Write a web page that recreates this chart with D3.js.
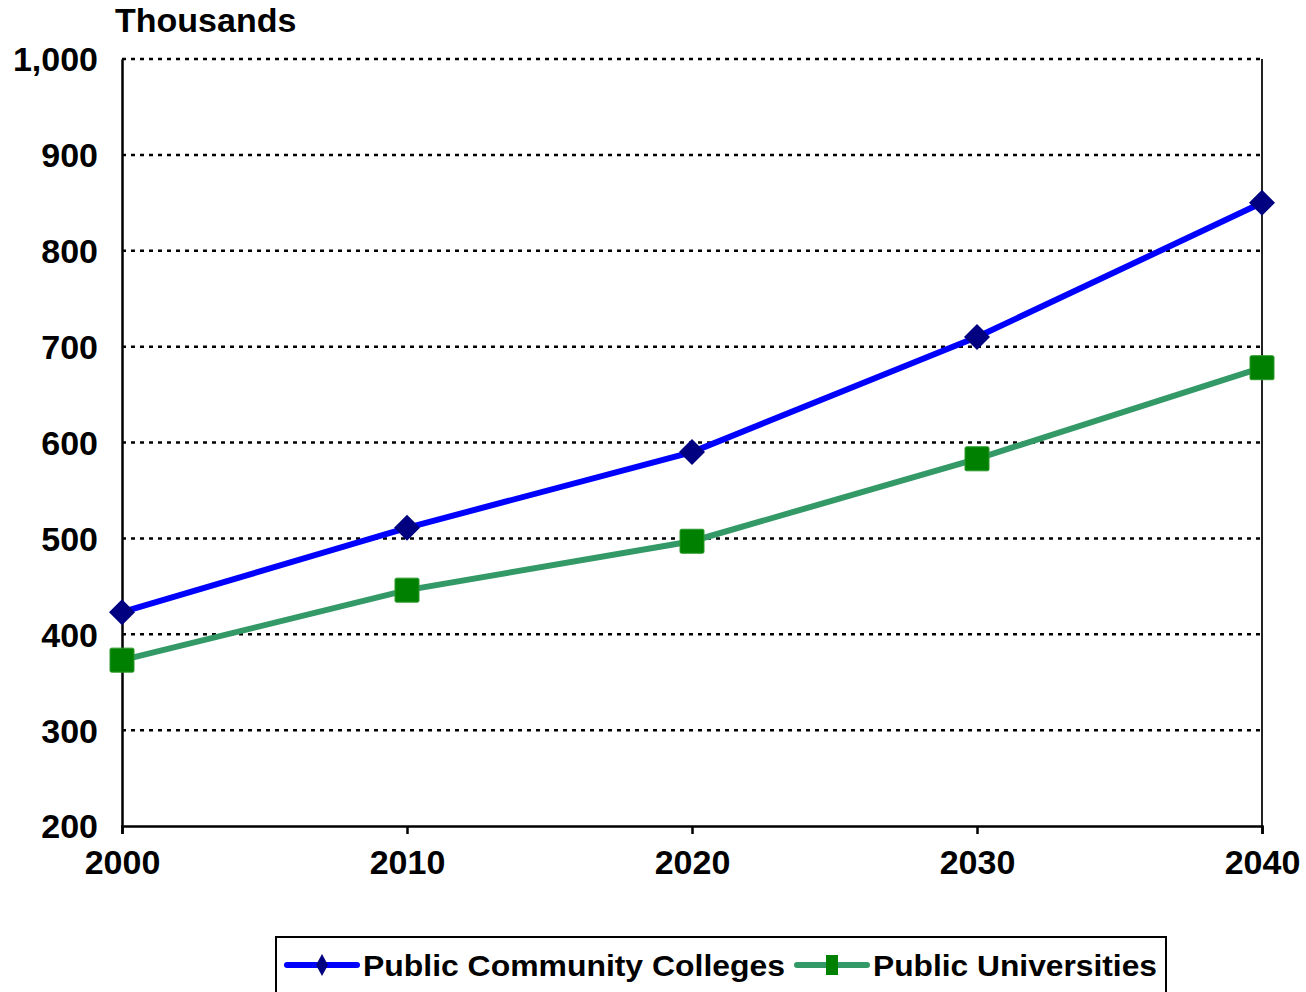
<!DOCTYPE html>
<html><head><meta charset="utf-8">
<script src="https://cdn.jsdelivr.net/npm/d3@7"></script>
<style>body{margin:0;background:#fff}svg{display:block}text{font-family:"Liberation Sans",Arial,sans-serif;font-weight:bold;fill:#000}</style>
</head><body>
<script>
const years = [2000, 2010, 2020, 2030, 2040];
const communityColleges = [423, 511, 590, 710, 850];
const universities = [373, 446, 497, 583, 678];
const yTicks = [200, 300, 400, 500, 600, 700, 800, 900, 1000];
const seriesNames = ["Public Community Colleges", "Public Universities"];

const W = 1306, H = 992;
const svg = d3.select("body").append("svg").attr("width", W).attr("height", H);
const pLeft = 122, pRight = 1262, pTop = 59, pBottom = 826;
const x = d3.scaleLinear().domain([2000, 2040]).range([pLeft, pRight]);
const y = d3.scaleLinear().domain([200, 1000]).range([pBottom, pTop]);
const FONT = '"Liberation Sans",Arial,sans-serif';

// gridlines
svg.append("g").selectAll("line").data(yTicks.filter(d => d > 200)).join("line")
  .attr("x1", pLeft).attr("x2", pRight).attr("y1", d => y(d)).attr("y2", d => y(d))
  .attr("stroke", "#000").attr("stroke-width", 2.5).attr("stroke-dasharray", "4,5");

// right border
svg.append("line").attr("x1", pRight).attr("x2", pRight).attr("y1", pTop).attr("y2", pBottom)
  .attr("stroke", "#222").attr("stroke-width", 2);

// y axis
const yAxis = svg.append("g").attr("transform", `translate(${pLeft},0)`)
  .call(d3.axisLeft(y).tickValues(yTicks).tickSize(0).tickPadding(24).tickFormat(d3.format(",")));
yAxis.select(".domain").attr("stroke", "#000").attr("stroke-width", 2.5);
yAxis.selectAll("text").attr("font-size", 34).attr("dy", "0.35em").style("font-family", FONT).style("font-weight", "bold");

// x axis
const xAxis = svg.append("g").attr("transform", `translate(0,${pBottom})`)
  .call(d3.axisBottom(x).tickValues(years).tickSize(8).tickPadding(16).tickFormat(d3.format("d")));
xAxis.select(".domain").attr("stroke", "#000").attr("stroke-width", 2.5);
xAxis.selectAll(".tick line").attr("stroke", "#000").attr("stroke-width", 2.5);
xAxis.selectAll("text").attr("font-size", 34).style("font-family", FONT).style("font-weight", "bold");

svg.append("text").attr("x", 115).attr("y", 32).attr("font-size", 34).text("Thousands");

const line = d3.line().x((d, i) => x(years[i])).y(d => y(d));
svg.append("path").datum(communityColleges).attr("d", line).attr("fill", "none")
  .attr("stroke", "#0000FF").attr("stroke-width", 6);
svg.append("path").datum(universities).attr("d", line).attr("fill", "none")
  .attr("stroke", "#339966").attr("stroke-width", 6);

const dSize = 13;
svg.append("g").selectAll("path").data(communityColleges).join("path")
  .attr("d", `M0,${-dSize}L${dSize},0L0,${dSize}L${-dSize},0Z`)
  .attr("transform", (d, i) => `translate(${x(years[i])},${y(d)})`)
  .attr("fill", "#000080");
const s = 24;
svg.append("g").selectAll("rect").data(universities).join("rect")
  .attr("x", (d, i) => x(years[i]) - s / 2).attr("y", d => y(d) - s / 2)
  .attr("width", s).attr("height", s).attr("rx", 1.5).attr("fill", "#008000").attr("stroke", "#2a9a2a").attr("stroke-width", 1);

// legend
const lg = svg.append("g");
lg.append("rect").attr("x", 276).attr("y", 937).attr("width", 890).attr("height", 70)
  .attr("fill", "#fff").attr("stroke", "#000").attr("stroke-width", 2);
const items = [
  {name: seriesNames[0], x0: 287, color: "#0000FF", mColor: "#000080", type: "diamond", tx: 363, tl: 422},
  {name: seriesNames[1], x0: 797, color: "#339966", mColor: "#008000", type: "square", tx: 873, tl: 284}
];
items.forEach(it => {
  lg.append("line").attr("x1", it.x0).attr("x2", it.x0 + 70).attr("y1", 965).attr("y2", 965)
    .attr("stroke", it.color).attr("stroke-width", 6).attr("stroke-linecap", "round");
  const cx = it.x0 + 35;
  if (it.type === "diamond") {
    lg.append("path").attr("d", `M${cx},${965 - 11}L${cx + 6},965L${cx},${965 + 11}L${cx - 6},965Z`).attr("fill", it.mColor);
  } else {
    lg.append("rect").attr("x", cx - 6).attr("y", 965 - 10).attr("width", 12).attr("height", 20).attr("fill", it.mColor);
  }
  lg.append("text").attr("x", it.tx).attr("y", 976).attr("font-size", 30)
    .attr("textLength", it.tl).attr("lengthAdjust", "spacingAndGlyphs").text(it.name);
});
</script>
</body></html>
